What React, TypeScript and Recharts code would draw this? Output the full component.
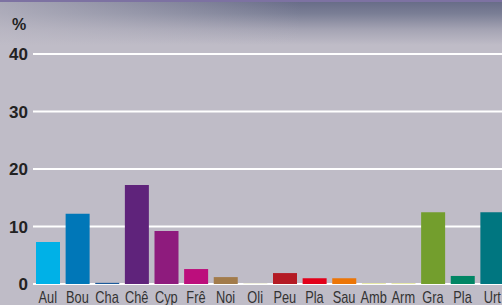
import React from "react";
import { BarChart, Bar, XAxis, YAxis, CartesianGrid, Cell } from "recharts";

const categories = ["Aul", "Bou", "Cha", "Chê", "Cyp", "Frê", "Noi", "Oli", "Peu", "Pla", "Sau", "Amb", "Arm", "Gra", "Pla", "Urt"];
const values = [7.3, 12.2, 0.2, 17.2, 9.2, 2.6, 1.2, 0.1, 1.9, 1.0, 1.0, 0.15, 0.15, 12.5, 1.4, 12.5];
const colors = ["#00b1e7", "#0077b8", "#1c5a9a", "#5f237b", "#8e1b7d", "#bc0e7c", "#a27b4a", "#e6e6c8", "#b41a24", "#e2001a", "#ec7506", "#e3e69a", "#e3e69a", "#739e2d", "#008564", "#007680"];
const yTicks = [0, 10, 20, 30, 40];

const data = categories.map((c, i) => ({ key: i, name: c, value: values[i] }));

const CatTick = (props: any) => {
  const { x, y, payload } = props;
  return (
    <g transform={`translate(${x},${y})`}>
      <text
        transform="scale(0.8,1)"
        textAnchor="middle"
        dy="0.71em"
        fill="#333"
        fontSize={16}
        fontFamily="'Liberation Sans', Arial, sans-serif"
      >
        {categories[payload.value]}
      </text>
    </g>
  );
};

export default function App() {
  return (
    <div
      style={{
        position: "absolute",
        left: 0,
        top: 0,
        width: 502,
        height: 305,
        overflow: "hidden",
        background: "#bfbcc7",
      }}
    >
      <div
        style={{
          position: "absolute",
          left: 0,
          top: 0,
          width: 502,
          height: 45,
          background:
            "linear-gradient(to right, rgba(191,188,199,0.75) 0%, rgba(191,188,199,0.45) 25%, rgba(191,188,199,0) 60%), linear-gradient(to bottom, #656a86 0%, #7a7e95 30%, #a4a3b3 65%, #bfbcc7 100%)",
        }}
      />
      <div style={{ position: "absolute", left: 0, top: 0, width: 502, height: 2, background: "#7d72a2" }} />
      <div
        style={{
          position: "absolute",
          left: 12,
          top: 16,
          fontFamily: "'Liberation Sans', Arial, sans-serif",
          fontWeight: 700,
          fontSize: 16,
          color: "#222",
        }}
      >
        %
      </div>
      <div style={{ position: "absolute", left: 0, top: 0 }}>
        <BarChart width={507} height={305} data={data} margin={{ top: 54, right: 0, bottom: 0, left: 0 }}>
          <CartesianGrid vertical={false} stroke="#ffffff" strokeWidth={2} />
          <XAxis
            dataKey="key"
            axisLine={false}
            tickLine={false}
            tickSize={0}
            tickMargin={8}
            height={21}
            interval={0}
            tick={<CatTick />}
          />
          <YAxis
            domain={[0, 40]}
            ticks={yTicks}
            width={33}
            axisLine={false}
            tickLine={false}
            tickSize={0}
            tickMargin={5}
            tick={{ fill: "#222", fontSize: 17, fontWeight: 700, fontFamily: "'Liberation Sans', Arial, sans-serif" }}
          />
          <Bar dataKey="value" barSize={24} isAnimationActive={false}>
            {data.map((d, i) => (
              <Cell key={i} fill={colors[i]} />
            ))}
          </Bar>
        </BarChart>
      </div>
    </div>
  );
}
